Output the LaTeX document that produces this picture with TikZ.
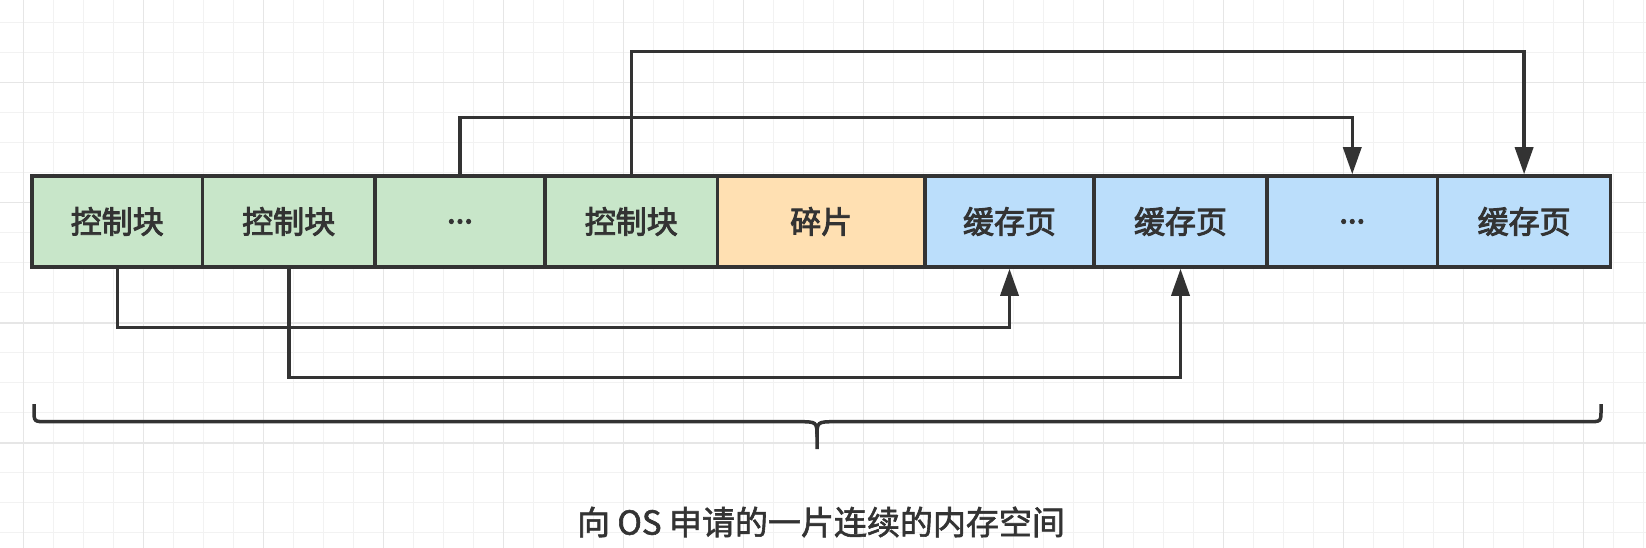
\documentclass[tikz,border=0pt]{standalone}
\usepackage{fontspec}
\setmainfont{Noto Sans CJK SC}
\newfontfamily\cjkmed[FakeBold=3]{Noto Sans CJK SC}
\newfontfamily\cjklbl[FakeBold=1.8]{Noto Sans CJK SC}
\usetikzlibrary{arrows.meta}
\definecolor{ink}{HTML}{333333}
\definecolor{gfill}{HTML}{C8E6C9}
\definecolor{ofill}{HTML}{FFE0B2}
\definecolor{bfill}{HTML}{BBDEFB}
\definecolor{gridminor}{HTML}{F2F2F2}
\definecolor{gridmajor}{HTML}{E6E6E6}
\begin{document}
\begin{tikzpicture}[x=1pt,y=-1pt,
  cell/.style={draw=ink, line width=3.5pt, minimum height=91pt, inner sep=0pt,
    text=ink, font=\cjkmed\fontsize{31}{36}\selectfont},
  green/.style={cell, fill=gfill},
  orange/.style={cell, fill=ofill},
  blue/.style={cell, fill=bfill},
  conn/.style={draw=ink, line width=3.5pt},
  arr/.style={conn, -{Triangle[length=27pt,width=18pt]}},
  brace/.style={draw=ink, line width=3.5pt},
  lbl/.style={text=ink, inner sep=0pt, font=\cjklbl\fontsize{33}{38}\selectfont},
  minorline/.style={draw=gridminor, line width=1.3pt},
  majorline/.style={draw=gridmajor, line width=1.6pt}
]
\useasboundingbox (0,0) rectangle (1646,548);
\fill[white] (0,0) rectangle (1646,548);
% grid
\foreach \k in {0,...,54} \draw[minorline] (23.3+30*\k,0) -- (23.3+30*\k,548);
\foreach \k in {0,...,17} \draw[minorline] (0,22.7+30*\k) -- (1646,22.7+30*\k);
\foreach \k in {0,...,13} \draw[majorline] (23.3+120*\k,0) -- (23.3+120*\k,548);
\foreach \k in {0,...,3} \draw[majorline] (0,82.7+120*\k) -- (1646,82.7+120*\k);

% cells
\node[green,  minimum width=170.5pt] (b1) at (117.25,221.5) {控制块};
\node[green,  minimum width=172.5pt] (b2) at (288.75,221.5) {控制块};
\node[green,  minimum width=170pt]   (b3) at (460,221.5)    {...};
\node[green,  minimum width=172.5pt] (b4) at (631.25,221.5) {控制块};
\node[orange, minimum width=207.5pt] (b5) at (821.25,221.5) {碎片};
\node[blue,   minimum width=169pt]   (b6) at (1009.5,221.5) {缓存页};
\node[blue,   minimum width=173pt]   (b7) at (1180.5,221.5) {缓存页};
\node[blue,   minimum width=170.5pt] (b8) at (1352.25,221.5) {...};
\node[blue,   minimum width=173.2pt] (b9) at (1524.1,221.5) {缓存页};

% routing levels
\coordinate (lvA) at (0,327.3);
\coordinate (lvB) at (0,377.3);
\coordinate (lvC) at (0,117.3);
\coordinate (lvD) at (0,51.7);

\draw[arr] (b1.south) -- (b1.south |- lvA) -| (b6.south);
\draw[arr] (b2.south) -- (b2.south |- lvB) -| (b7.south);
\draw[arr] (b3.north) -- (b3.north |- lvC) -| (b8.north);
\draw[arr] (b4.north) -- (b4.north |- lvD) -| (b9.north);

% brace
\draw[brace] (34,404) -- (34,410) .. controls (34,421.7) .. (47,421.7) -- (798,421.7)
  .. controls (817,421.7) .. (817,437) -- (817,449);
\draw[brace] (817,437) .. controls (817,421.7) .. (836,421.7) -- (1588,421.7)
  .. controls (1601,421.7) .. (1601,410) -- (1601,404);

\node[lbl] (label) at (821,522) {向 OS 申请的一片连续的内存空间};
\end{tikzpicture}
\end{document}
